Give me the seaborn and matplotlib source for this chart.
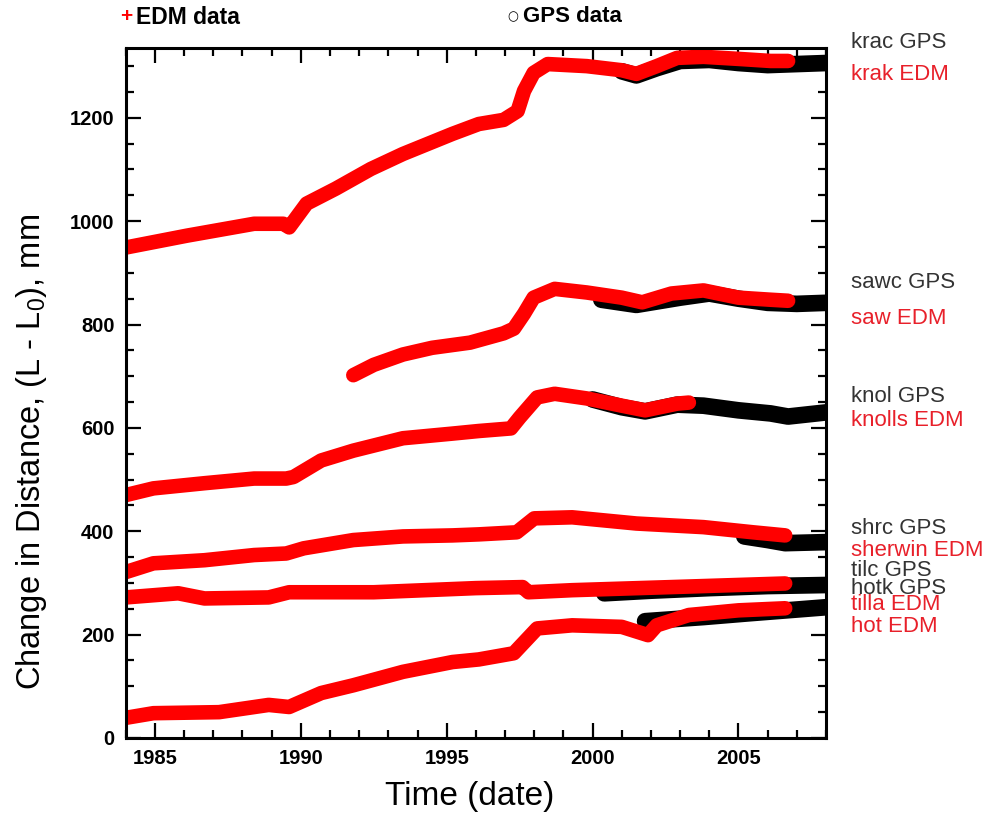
import seaborn as sns
import pandas as pd
import matplotlib.pyplot as plt
from matplotlib.ticker import MultipleLocator

# values (decimal year, mm)
krak_edm_t = [1984.0, 1986.1, 1988.4, 1989.4, 1989.6, 1990.2, 1991.2, 1992.4, 1993.5, 1995.2, 1996.1, 1996.95,
              1997.43, 1997.65, 1997.98, 1998.46, 1999.8, 2001.0, 2001.5, 2002.2, 2002.9, 2003.8, 2005.0, 2006.1, 2006.7]
krak_edm_v = [949, 972, 995, 995, 988, 1034, 1063, 1101, 1130, 1169, 1188, 1196,
              1213, 1252, 1287, 1304, 1300, 1292, 1285, 1300, 1316, 1318, 1314, 1310, 1310]
krac_gps_t = [2001.0, 2001.5, 2002.2, 2003.0, 2004.0, 2005.0, 2006.0, 2007.0, 2008.0]
krac_gps_v = [1290, 1282, 1296, 1310, 1312, 1306, 1302, 1304, 1306]

saw_edm_t = [1991.8, 1992.5, 1993.5, 1994.5, 1995.8, 1996.95, 1997.3, 1997.65, 1997.98, 1998.7, 1999.8,
             2001.0, 2001.7, 2002.7, 2003.8, 2005.0, 2006.1, 2006.7]
saw_edm_v = [702, 722, 742, 755, 765, 783, 792, 821, 852, 869, 862, 852, 843, 860, 866, 852, 848, 846]
sawc_gps_t = [2000.3, 2001.5, 2003.0, 2004.0, 2005.0, 2006.0, 2007.0, 2008.0]
sawc_gps_v = [848, 838, 852, 860, 850, 842, 840, 842]

knolls_edm_t = [1984.0, 1984.95, 1986.7, 1988.4, 1989.5, 1989.75, 1990.7, 1991.8, 1993.5, 1995.2, 1996.1,
                1997.2, 1997.5, 1998.1, 1998.7, 1999.8, 2001.0, 2001.8, 2002.9, 2003.3]
knolls_edm_v = [470, 483, 493, 502, 502, 505, 537, 556, 580, 589, 594, 599, 620, 659, 666, 657, 643, 634, 647, 649]
knol_gps_t = [2000.0, 2001.0, 2001.8, 2002.9, 2003.8, 2005.0, 2006.1, 2006.7, 2008.0]
knol_gps_v = [655, 640, 632, 645, 643, 634, 628, 622, 630]

sherwin_edm_t = [1984.0, 1984.95, 1986.7, 1988.4, 1989.5, 1990.1, 1991.8, 1993.5, 1995.2, 1996.1, 1997.4,
                 1998.0, 1999.3, 2001.5, 2003.8, 2005.5, 2006.6]
sherwin_edm_v = [321, 338, 344, 354, 357, 367, 383, 390, 392, 394, 398, 425, 427, 415, 408, 398, 392]
shrc_gps_t = [2005.2, 2006.0, 2006.6, 2008.0]
shrc_gps_v = [390, 383, 377, 379]

tilla_edm_t = [1984.0, 1985.8, 1986.7, 1988.9, 1989.6, 1992.5, 1996.0, 1997.6, 1997.8, 1999.3, 2002.7, 2006.6]
tilla_edm_v = [272, 280, 270, 272, 282, 282, 290, 292, 282, 286, 292, 299]
tilc_gps_t = [2000.4, 2002.0, 2004.0, 2006.0, 2008.0]
tilc_gps_v = [280, 285, 290, 294, 296]

hot_edm_t = [1984.0, 1984.95, 1987.2, 1988.9, 1989.6, 1990.7, 1991.8, 1993.5, 1995.2, 1996.1, 1997.3,
             1998.1, 1999.3, 2001.0, 2001.9, 2002.2, 2003.3, 2005.0, 2006.6]
hot_edm_v = [39, 48, 50, 64, 60, 87, 102, 128, 147, 152, 164, 212, 218, 215, 199, 218, 238, 247, 251]
hotk_gps_t = [2001.8, 2003.8, 2005.3, 2008.0]
hotk_gps_v = [226, 234, 241, 253]

# labels on the right: (text, colour, pixel y in the 1001x817 picture)
side_labels = [("krac GPS", "#333333", 42), ("krak EDM", "#e8202a", 75),
               ("sawc GPS", "#333333", 283), ("saw EDM", "#e8202a", 319),
               ("knol GPS", "#333333", 396), ("knolls EDM", "#e8202a", 420),
               ("shrc GPS", "#333333", 528), ("sherwin EDM", "#e8202a", 551),
               ("tilc GPS", "#333333", 571), ("hotk GPS", "#333333", 588),
               ("tilla EDM", "#e8202a", 604), ("hot EDM", "#e8202a", 626)]

series = [("krak", "EDM", krak_edm_t, krak_edm_v), ("krac", "GPS", krac_gps_t, krac_gps_v),
          ("saw", "EDM", saw_edm_t, saw_edm_v), ("sawc", "GPS", sawc_gps_t, sawc_gps_v),
          ("knolls", "EDM", knolls_edm_t, knolls_edm_v), ("knol", "GPS", knol_gps_t, knol_gps_v),
          ("sherwin", "EDM", sherwin_edm_t, sherwin_edm_v), ("shrc", "GPS", shrc_gps_t, shrc_gps_v),
          ("tilla", "EDM", tilla_edm_t, tilla_edm_v), ("tilc", "GPS", tilc_gps_t, tilc_gps_v),
          ("hot", "EDM", hot_edm_t, hot_edm_v), ("hotk", "GPS", hotk_gps_t, hotk_gps_v)]

rows = []
for name, kind, t, v in series:
    for a, b in zip(t, v):
        rows.append({"station": name, "kind": kind, "year": a, "mm": b})
df = pd.DataFrame(rows)

sns.set_theme(style="ticks")
plt.rcParams["font.family"] = ["Liberation Sans", "DejaVu Sans"]
plt.rcParams["mathtext.default"] = "regular"
plt.rcParams["text.color"] = "black"
plt.rcParams["axes.labelcolor"] = "black"

fig = plt.figure(figsize=(10.01, 8.17), dpi=100)
ax = fig.add_axes([0.1256, 0.0967, 0.6996, 0.8445])

# GPS underneath, EDM on top
sns.lineplot(data=df[df.kind == "GPS"], x="year", y="mm", units="station", estimator=None, sort=False,
             color="black", linewidth=12, ax=ax)
sns.lineplot(data=df[df.kind == "EDM"], x="year", y="mm", units="station", estimator=None, sort=False,
             color="#ff0000", linewidth=10.5, ax=ax)

ax.set_xlim(1984, 2008)
ax.set_ylim(0, 1335)
ax.xaxis.set_major_locator(MultipleLocator(5))
ax.xaxis.set_minor_locator(MultipleLocator(1))
ax.yaxis.set_major_locator(MultipleLocator(200))
ax.yaxis.set_minor_locator(MultipleLocator(50))
ax.tick_params(which="both", direction="in", top=True, right=True, width=1.6, colors="black")
ax.tick_params(which="major", length=11, labelsize=14.5, pad=8)
ax.tick_params(which="minor", length=5.5)
for lab in ax.get_xticklabels() + ax.get_yticklabels():
    lab.set_fontweight("bold")
for sp in ax.spines.values():
    sp.set_linewidth(2.2)
    sp.set_color("black")

ax.set_xlabel("Time (date)", fontsize=24)
ax.set_ylabel("Change in Distance, (L - L$_0$), mm", fontsize=23.5)
ax.xaxis.set_label_coords(0.491, -0.062)
ax.yaxis.set_label_coords(-0.11, 0.414)

W, H = 1001, 817
for text, col, py in side_labels:
    fig.text(851 / W, 1 - py / H, text, color=col, fontsize=16, va="center", ha="left")

# legend row at the top
fig.text(126 / W, 1 - 17 / H, "+", color="#ff0000", fontsize=15, fontweight="bold", va="center", ha="center")
fig.text(136 / W, 1 - 17 / H, "EDM data", color="black", fontsize=16.5, fontweight="bold", va="center")
fig.text(513 / W, 1 - 17 / H, "\u25cb", color="black", fontsize=9, va="center", ha="center",
         family=["DejaVu Sans"])
fig.text(523 / W, 1 - 17 / H, "GPS data", color="black", fontsize=16, fontweight="bold", va="center")

fig.savefig("out.png", dpi=100)
